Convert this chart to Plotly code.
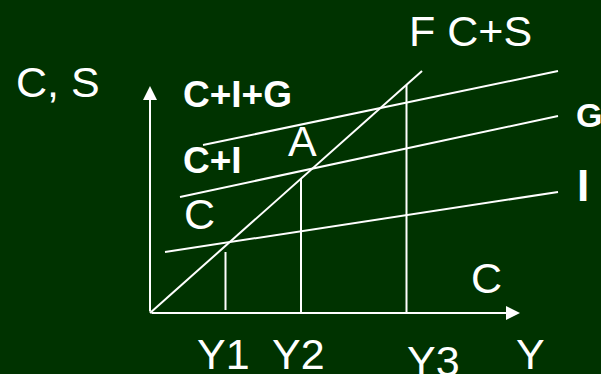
"""
Keynesian cross diagram: C, C+I, C+I+G lines against the 45-degree line
"""

import plotly.graph_objects as go

BG = '#003300'
FG = 'white'
FONT = 'Liberation Sans, Arial, sans-serif'

# data units: origin of the diagram at (0, 0), income to the right, spending up
line_45_x = [0, 272]
line_45_y = [0, 242]

c_line_x = [15, 408]
c_line_y = [61, 121]

ci_line_x = [30, 408]
ci_line_y = [116, 197]

cig_line_x = [53, 408]
cig_line_y = [168, 242]

# income levels and the height of their drop lines
y_levels = ['Y1', 'Y2', 'Y3']
y_level_x = [75.5, 151, 256.5]
y_level_bottom = [3, 0, 0]
y_level_top = [61, 135, 228]

x_axis_end = 370
y_axis_end = 227

fig = go.Figure()

white_line = dict(color=FG, width=2)

# slanted lines
for xs, ys in [(line_45_x, line_45_y), (c_line_x, c_line_y),
               (ci_line_x, ci_line_y), (cig_line_x, cig_line_y)]:
    fig.add_trace(go.Scatter(x=xs, y=ys, mode='lines', line=white_line,
                             hoverinfo='skip', showlegend=False))

# vertical drop lines at Y1, Y2, Y3
for name, xv, y0, y1 in zip(y_levels, y_level_x, y_level_bottom, y_level_top):
    fig.add_trace(go.Scatter(x=[xv, xv], y=[y0, y1], mode='lines', line=white_line,
                             name=name, hoverinfo='skip', showlegend=False))

# axes with arrow heads
arrows = [
    dict(x=x_axis_end, y=0, ax=0, ay=0),
    dict(x=0, y=y_axis_end, ax=0, ay=0),
]
for a in arrows:
    fig.add_annotation(x=a['x'], y=a['y'], ax=a['ax'], ay=a['ay'],
                       xref='x', yref='y', axref='x', ayref='y',
                       text='', showarrow=True, arrowhead=2, arrowsize=1.4,
                       arrowwidth=2, arrowcolor=FG)

# text labels: (text, x, y, size, bold)
labels = [
    ('C, S', -136, 231.5, 43, False),
    ('F C+S', 257, 282, 43, False),
    ('C+I+G', 30.5, 218.5, 37, True),
    ('C+I', 30.5, 153, 37, True),
    ('A', 135.5, 172, 43, False),
    ('C', 31.5, 99, 43, False),
    ('G', 423.5, 198.5, 34, True),
    ('I', 424.5, 128, 44, True),
    ('C', 318.5, 35.5, 43, False),
    ('Y1', 44.5, -40.5, 43, False),
    ('Y2', 119.5, -40.5, 43, False),
    ('Y3', 254.5, -47.5, 43, False),
    ('Y', 363.5, -41, 43, False),
]
for text, x, y, size, bold in labels:
    fig.add_annotation(x=x, y=y, xref='x', yref='y',
                       text=f'<b>{text}</b>' if bold else text,
                       showarrow=False, xanchor='left', yanchor='middle',
                       font=dict(family=FONT, size=size, color=FG))

fig.update_layout(
    width=601,
    height=374,
    margin=dict(l=0, r=0, t=0, b=0),
    paper_bgcolor=BG,
    plot_bgcolor=BG,
    xaxis=dict(range=[-150, 451], visible=False, fixedrange=True),
    yaxis=dict(range=[-61, 313], visible=False, fixedrange=True),
    showlegend=False,
)

# drop the page margin so the figure sits at the window's top-left corner
fig.write_html("out.html", config={'displayModeBar': False},
               post_script="document.body.style.margin='0';")
